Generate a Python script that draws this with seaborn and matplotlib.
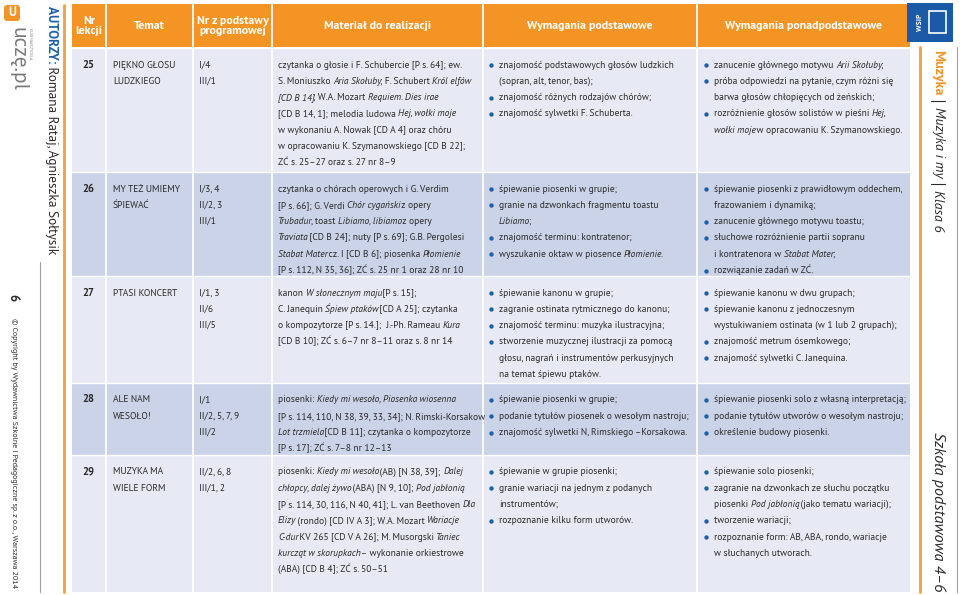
import numpy as np
import pandas as pd
import matplotlib.pyplot as plt
import seaborn as sns
from matplotlib import font_manager as fm
from matplotlib.patches import Rectangle, FancyBboxPatch
from matplotlib.font_manager import FontProperties

# table content (one list per column, lines wrapped as on the page, _x_ = italic)
lesson_nr = ["25", "26", "27", "28", "29"]
topics = [["PIĘKNO GŁOSU", "LUDZKIEGO"], ["MY TEŻ UMIEMY", "ŚPIEWAĆ"], ["PTASI KONCERT"],
          ["ALE NAM", "WESOŁO!"], ["MUZYKA MA", "WIELE FORM"]]
program_nr = [["I/4", "III/1"], ["I/3, 4", "II/2, 3", "III/1"], ["I/1, 3", "II/6", "III/5"],
              ["I/1", "II/2, 5, 7, 9", "III/2"], ["II/2, 6, 8", "III/1, 2"]]
materials = [
    ["czytanka o głosie i F. Schubercie [P s. 64]; ew.",
     "S. Moniuszko _Aria Skołuby_; F. Schubert _Król elfów_",
     "_[CD B 14]_; W.A. Mozart _Requiem. Dies irae_",
     "[CD B 14, 1]; melodia ludowa _Hej, wołki moje_",
     "w wykonaniu A. Nowak [CD A 4] oraz chóru",
     "w opracowaniu K. Szymanowskiego [CD B 22];",
     "ZĆ s. 25–27 oraz s. 27 nr 8–9"],
    ["czytanka o chórach operowych i G. Verdim",
     "[P s. 66]; G. Verdi _Chór cygański_ z opery",
     "_Trubadur_, toast _Libiamo, libiamo_ z opery",
     "_Traviata_ [CD B 24]; nuty [P s. 69]; G.B. Pergolesi",
     "_Stabat Mater_ cz. I [CD B 6]; piosenka _Płomienie_",
     "[P s. 112, N 35, 36]; ZĆ s. 25 nr 1 oraz 28 nr 10"],
    ["kanon _W słonecznym maju_ [P s. 15];",
     "C. Janequin _Śpiew ptaków_ [CD A 25]; czytanka",
     "o kompozytorze [P s. 14.];  J.-Ph. Rameau _Kura_",
     "[CD B 10]; ZĆ s. 6–7 nr 8–11 oraz s. 8 nr 14"],
    ["piosenki: _Kiedy mi wesoło, Piosenka wiosenna_",
     "[P s. 114, 110, N 38, 39, 33, 34]; N. Rimski-Korsakow",
     "_Lot trzmiela_ [CD B 11]; czytanka o kompozytorze",
     "[P s. 17]; ZĆ s. 7–8 nr 12–13"],
    ["piosenki: _Kiedy mi wesoło_ (AB) [N 38, 39]; _Dalej_",
     "_chłopcy, dalej żywo_ (ABA) [N 9, 10]; _Pod jabłonią_",
     "[P s. 114, 30, 116, N 40, 41]; L. van Beethoven _Dla_",
     "_Elizy_ (rondo) [CD IV A 3]; W.A. Mozart _Wariacje_",
     "_C-dur_ KV 265 [CD V A 26]; M. Musorgski _Taniec_",
     "_kurcząt w skorupkach_ – wykonanie orkiestrowe",
     "(ABA) [CD B 4]; ZĆ s. 50–51"],
]
basic_req = [
    [["znajomość podstawowych głosów ludzkich", "(sopran, alt, tenor, bas);"],
     ["znajomość różnych rodzajów chórów;"],
     ["znajomość sylwetki F. Schuberta."]],
    [["śpiewanie piosenki w grupie;"],
     ["granie na dzwonkach fragmentu toastu", "_Libiamo_;"],
     ["znajomość terminu: kontratenor;"],
     ["wyszukanie oktaw w piosence _Płomienie_."]],
    [["śpiewanie kanonu w grupie;"],
     ["zagranie ostinata rytmicznego do kanonu;"],
     ["znajomość terminu: muzyka ilustracyjna;"],
     ["stworzenie muzycznej ilustracji za pomocą", "głosu, nagrań i instrumentów perkusyjnych",
      "na temat śpiewu ptaków."]],
    [["śpiewanie piosenki w grupie;"],
     ["podanie tytułów piosenek o wesołym nastroju;"],
     ["znajomość sylwetki N, Rimskiego –Korsakowa."]],
    [["śpiewanie w grupie piosenki;"],
     ["granie wariacji na jednym z podanych", "instrumentów;"],
     ["rozpoznanie kilku form utworów."]],
]
advanced_req = [
    [["zanucenie głównego motywu _Arii Skołuby_;"],
     ["próba odpowiedzi na pytanie, czym różni się", "barwa głosów chłopięcych od żeńskich;"],
     ["rozróżnienie głosów solistów w pieśni _Hej,_", "_wołki moje_ w opracowaniu K. Szymanowskiego."]],
    [["śpiewanie piosenki z prawidłowym oddechem,", "frazowaniem i dynamiką;"],
     ["zanucenie głównego motywu toastu;"],
     ["słuchowe rozróżnienie partii sopranu", "i kontratenora w _Stabat Mater_;"],
     ["rozwiązanie zadań w ZĆ."]],
    [["śpiewanie kanonu w dwu grupach;"],
     ["śpiewanie kanonu z jednoczesnym", "wystukiwaniem ostinata (w 1 lub 2 grupach);"],
     ["znajomość metrum ósemkowego;"],
     ["znajomość sylwetki C. Janequina."]],
    [["śpiewanie piosenki solo z własną interpretacją;"],
     ["podanie tytułów utworów o wesołym nastroju;"],
     ["określenie budowy piosenki."]],
    [["śpiewanie solo piosenki;"],
     ["zagranie na dzwonkach ze słuchu początku", "piosenki _Pod jabłonią_ (jako tematu wariacji);"],
     ["tworzenie wariacji;"],
     ["rozpoznanie form: AB, ABA, rondo, wariacje", "w słuchanych utworach."]],
]
headers = ["Nr\nlekcji", "Temat", "Nr z podstawy\nprogramowej", "Materiał do realizacji",
           "Wymagania podstawowe", "Wymagania ponadpodstawowe"]
authors = ["AUTORZY:", " Romana Rataj, Agnieszka Sołtysik"]
side_title = ["Muzyka", "_Muzyka i my_", "_Klasa 6_"]
school = "Szkoła podstawowa 4–6"
copyright_note = "© Copyright by Wydawnictwa Szkolne i Pedagogiczne sp. z o.o., Warszawa 2014"
page_no = "6"

df = pd.DataFrame({"nr": lesson_nr, "temat": topics, "prog": program_nr,
                   "mat": materials, "basic": basic_req, "adv": advanced_req})

# page layout in pixels
col_edges = [72, 106, 193, 272, 483, 697, 910]
row_edges = [48, 172, 276, 383, 455, 592]
row_colors = ["#e7eaf4", "#cbd3e9", "#e7eaf4", "#cbd3e9", "#e7eaf4"]
ORANGE = "#f39425"
INK = "#2b2a29"
BLUE = "#1e5fa9"
STEP = 16.3

faces = {}
for f in fm.fontManager.ttflist:
    w = f.weight if isinstance(f.weight, int) else 400
    faces.setdefault(f.name, set()).add((f.style, w))


def pick(cands):
    # only families with static regular, italic and bold faces
    ok = [c for c in cands if c in faces
          and ("normal", 400) in faces[c] and ("italic", 400) in faces[c]
          and any(s == "normal" and w >= 600 for s, w in faces[c])]
    return ok[:1] + ["DejaVu Sans"]


BODY = pick(["PT Sans", "Fira Sans", "Asap", "Lato", "Liberation Sans"])
HEAD = BODY

sns.set_theme(style="white")
plt.rcParams["font.family"] = BODY

fig = plt.figure(figsize=(9.6, 5.95), dpi=100)
ax = fig.add_axes([0, 0, 1, 1])
ax.set_xlim(0, 960)
ax.set_ylim(595, 0)
ax.axis("off")
renderer = fig.canvas.get_renderer()


def text_width(s, size, family=BODY, style="normal", weight="normal"):
    # advance width of s, measured between two bars so side bearings cancel
    fp = FontProperties(family=family, size=size, style=style, weight=weight)
    w1 = renderer.get_text_width_height_descent("|" + s + "|", fp, ismath=False)[0]
    w2 = renderer.get_text_width_height_descent("||", fp, ismath=False)[0]
    return w1 - w2


# font sizes matched to line widths measured on the page
FS = 8 * 190 / text_width("Traviata [CD B 24]; nuty [P s. 69]; G.B. Pergolesi", 8)
HFS = 8 * 158 / text_width("Wymagania ponadpodstawowe", 8, HEAD, weight="bold")
XH = FS * 100 / 72 * 0.25
ITAL_TIGHTEN = FS * 100 / 72 * 0.18   # italic runs come out a little loose


def rich(x, y, line, size=FS, color=INK, family=BODY):
    for i, seg in enumerate(line.split("_")):
        if not seg:
            continue
        st = "italic" if i % 2 else "normal"
        ax.text(x, y, seg, fontsize=size, family=family, style=st, color=color,
                ha="left", va="baseline")
        x += text_width(seg, size, family, st)
        if st == "italic":
            x -= ITAL_TIGHTEN


def rich_vertical(x, y, parts, size, colors, weights, family=HEAD, gap=0, sep=None):
    for k, part in enumerate(parts):
        st = "italic" if part.startswith("_") else "normal"
        seg = part.strip("_")
        ax.text(x, y, seg, fontsize=size, family=family, style=st, color=colors[k],
                weight=weights[k], rotation=-90, ha="center", va="top")
        y += text_width(seg, size, family, st, weights[k])
        if sep and k < len(parts) - 1:
            y += gap
            ax.plot([x - 7, x + 7], [y, y], color=sep, lw=0.8)
            y += gap


# header bar
ax.add_patch(Rectangle((col_edges[0], 4), col_edges[-1] - col_edges[0], 43, color=ORANGE, lw=0))
for k, h in enumerate(headers):
    cx = (col_edges[k] + col_edges[k + 1]) / 2
    ax.text(cx, 26, h, fontsize=HFS, family=HEAD, weight="bold", color="white",
            ha="center", va="center", linespacing=0.95)

# body rows
for r, row in df.iterrows():
    top, bot = row_edges[r], row_edges[r + 1]
    ax.add_patch(Rectangle((col_edges[0], top), col_edges[-1] - col_edges[0], bot - top,
                           color=row_colors[r], lw=0))
    ax.plot([col_edges[0], col_edges[-1]], [top, top], color="white", lw=1)
    y0 = top + 19.5
    ax.text(82, y0, row["nr"], fontsize=FS + 0.8, family=HEAD, weight="bold", color=INK, va="baseline")
    for i, t in enumerate(row["temat"]):
        rich(113, y0 + i * STEP, t)
    for i, t in enumerate(row["prog"]):
        rich(199, y0 + i * STEP, t)
    for i, t in enumerate(row["mat"]):
        rich(278, y0 + i * STEP, t)
    for key, bx in (("basic", 491), ("adv", 706)):
        y = y0
        for item in row[key]:
            ax.scatter([bx], [y - XH], s=10, color=BLUE, lw=0, zorder=3)
            for line in item:
                rich(bx + 8, y, line)
                y += STEP

for x in col_edges[1:-1]:
    ax.plot([x, x], [4, row_edges[-1]], color="white", lw=1.3)

# left margin
ax.add_patch(FancyBboxPatch((4, 5), 16, 16, boxstyle="round,pad=0,rounding_size=3",
                            color=ORANGE, lw=0))
ax.text(12, 13, "U", fontsize=9, family=HEAD, weight="bold", color="white", ha="center", va="center")
ax.text(18, 27, "uczę.pl", fontsize=15.5, family=HEAD, color="#7a7b7d", rotation=-90, ha="center", va="top")
ax.text(30, 28, "KLUB NAUCZYCIELA", fontsize=2.6, family=HEAD, color="#7a7b7d", rotation=-90,
        ha="center", va="top")
rich_vertical(51, 6, authors, 9.5, [BLUE, INK], ["bold", "normal"])
ax.plot([64, 64], [5, 592], color="#f0a040", lw=2)
ax.plot([40, 40], [262, 592], color="#a0a0a0", lw=0.8)
ax.text(13, 298, page_no, fontsize=9, family=HEAD, weight="bold", color=INK, rotation=-90,
        ha="center", va="center")
ax.text(13, 318, copyright_note, fontsize=5.8, family=HEAD, color=INK, rotation=-90,
        ha="center", va="top")

# right margin
ax.add_patch(Rectangle((907, 3), 46, 39, color="#1b5aa6", lw=0))
ax.text(920, 22, "WSIP", fontsize=5.5, family=HEAD, weight="bold", color="white", rotation=90,
        ha="center", va="center")
ax.add_patch(Rectangle((929, 11), 17, 22, fill=False, ec="white", lw=1.2))
ax.plot([920, 920], [47, 592], color="#f0a040", lw=2)
ax.plot([957, 957], [47, 592], color="#a0a0a0", lw=0.8)
rich_vertical(938, 50, side_title, 10, [ORANGE, INK, INK], ["bold", "normal", "normal"],
              gap=6, sep=INK)
ax.text(938, 591, school, fontsize=11.6, family=HEAD, style="italic", color=INK, rotation=-90,
        ha="center", va="bottom")

fig.savefig("out.png", dpi=100)
